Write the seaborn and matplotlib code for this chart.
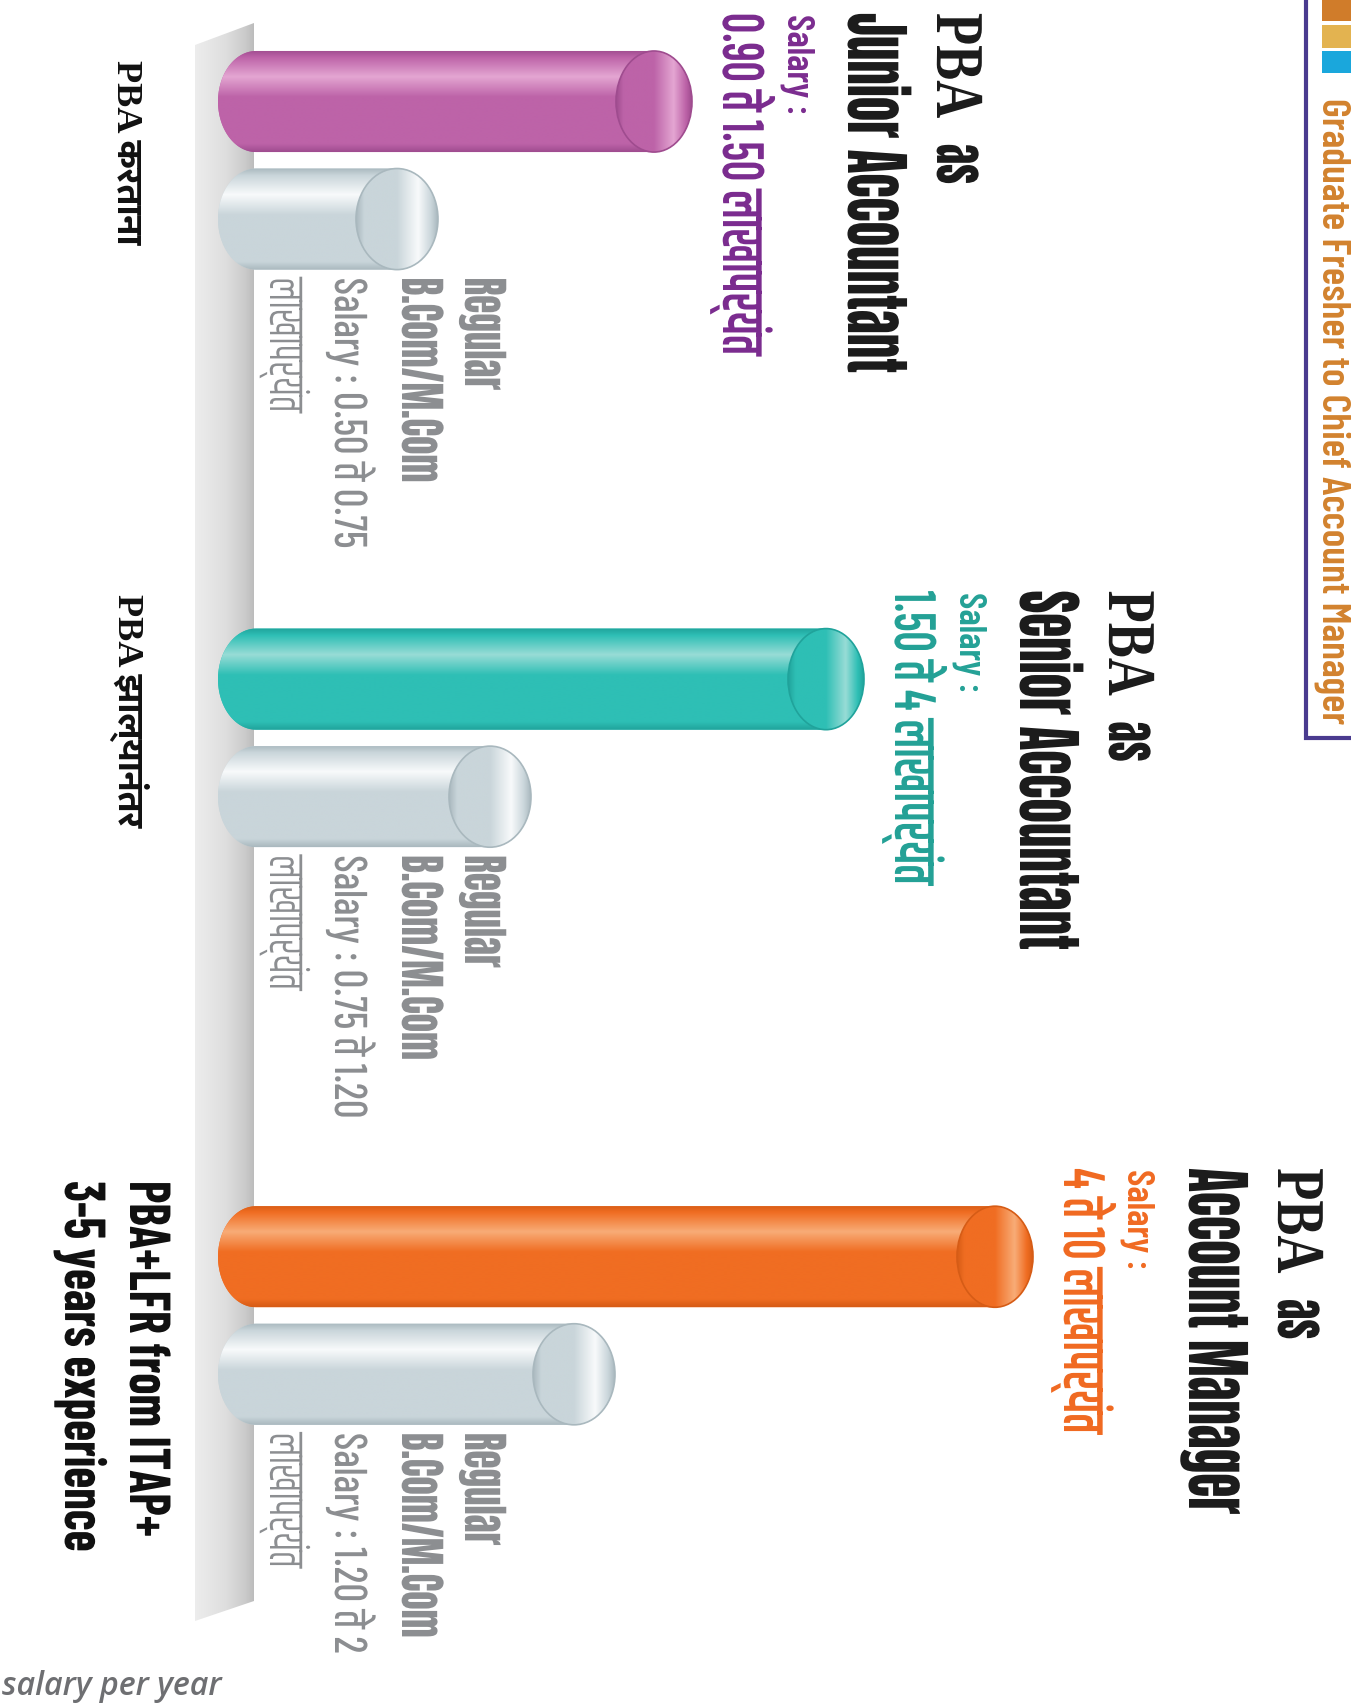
import numpy as np
import pandas as pd
import matplotlib
matplotlib.use('Agg')
import matplotlib.pyplot as plt
import seaborn as sns
from matplotlib import font_manager as fm
from matplotlib.patches import Polygon, Ellipse, Rectangle
from matplotlib.colors import to_rgb
from matplotlib.patheffects import AbstractPathEffect
from matplotlib.transforms import Affine2D

# ---------------- data ----------------
stages = ['PBA करताना', 'PBA झाल्यानंतर', 'PBA+LFR from ITAP+\n3-5 years experience']
series = ['PBA', 'Regular B.Com/M.Com']
# visual length of each cylinder as drawn in the infographic (relative units)
pba_length = [4.74, 6.46, 8.15]
regular_length = [2.20, 3.13, 3.97]
pba_roles = ['Junior Accountant', 'Senior Accountant', 'Account Manager']
pba_salary = ['0.90 ते 1.50 लाखापर्यंत', '1.50 ते 4 लाखापर्यंत', '4 ते 10 लाखापर्यंत']
regular_salary = ['0.50 ते 0.75', '0.75 ते 1.20', '1.20 ते 2']
regular_degree = ['Regular', 'B.Com/M.Com']
unit_word = 'लाखापर्यंत'
title = 'Graduate Fresher to Chief Account Manager'
footnote = 'salary per year'

# ---------------- styles ----------------
pba_base = ['#bd63a8', '#2ebfb5', '#f06d22']
pba_light = ['#e4a6d2', '#98dcd6', '#f8ac77']
pba_dark = ['#9f4c8f', '#20a39b', '#d65c16']
pba_text = ['#7b2c8f', '#24a196', '#f06a22']
reg_base, reg_light, reg_dark = '#c9d5da', '#f8fafb', '#a9b8be'
gray_text = '#8c8e91'

W, H = 1351, 1708
avail = {f.name for f in fm.fontManager.ttflist}
def pick(c):
    for n in c:
        if n in avail:
            return n
    return 'DejaVu Sans'
HEAD = pick(['Anton', 'Oswald', 'Fjalla One', 'Roboto Condensed'])
SERIF = pick(['Liberation Serif', 'DejaVu Serif'])
COND = pick(['Barlow Condensed', 'Roboto Condensed', 'Asap Condensed', 'Archivo Narrow'])
DEVA = pick(['Khand', 'Yantramanav', 'Mukta', 'Hind', 'Noto Sans Devanagari', 'Ek Mukta', 'Biryani'])
DEVA_B = pick(['Mukta', 'Hind', 'Noto Sans Devanagari', 'Martel', 'Ek Mukta', 'Biryani'])
ITAL = pick(['Open Sans', 'Lato', 'DejaVu Sans'])

sns.set_style('white')
fig = plt.figure(figsize=(W / 100, H / 100), dpi=100)
fig.patch.set_facecolor('white')

bg = fig.add_axes([0, 0, 1, 1], zorder=0)
bg.axis('off')
x0px = 218
ax = fig.add_axes([x0px / W, 0, (W - x0px) / W, 1], zorder=1)
ax.patch.set_alpha(0)
ov = fig.add_axes([0, 0, 1, 1], zorder=2)
ov.set_xlim(0, W); ov.set_ylim(H, 0); ov.axis('off'); ov.patch.set_alpha(0)

def grad_img(stops, n=256, vertical=True):
    t = np.linspace(0, 1, n)
    pos = [s[0] for s in stops]
    cols = np.array([to_rgb(s[1]) for s in stops])
    arr = np.stack([np.interp(t, pos, cols[:, k]) for k in range(3)], axis=-1)
    return arr[:, None, :] if vertical else arr[None, :, :]

# wall behind the cylinders
wall = Polygon([(195, 46), (254, 24), (254, 1602), (195, 1622)], closed=True,
               facecolor='none', edgecolor='none')
bg.add_patch(wall)
im = bg.imshow(grad_img([(0, '#ededed'), (0.5, '#dfdfdf'), (0.85, '#cbcbcb'), (1, '#bcbcbc')], vertical=False),
               extent=(195, 254, 1622, 24), origin='upper', aspect='auto', interpolation='bilinear')
im.set_clip_path(wall)
bg.set_xlim(0, W); bg.set_ylim(H, 0)

# ---------------- bars via seaborn ----------------
df = pd.DataFrame({
    'stage': stages * 2,
    'series': [series[0]] * 3 + [series[1]] * 3,
    'length': pba_length + regular_length,
})
sns.barplot(data=df, x='length', y='stage', hue='series', order=stages, hue_order=series,
            orient='h', width=0.407, gap=0.14, palette=[pba_base[0], reg_base],
            saturation=1, errorbar=None, legend=False, ax=ax)
ax.axis('off')

def set_bar_limits():
    ax.set_xlim(0, (W - x0px) / 100)
    ax.set_ylim((H - 161.3) / 577.6, -161.3 / 577.6)
set_bar_limits()

def cylinder(rect, base, light, dark, rr, z):
    x0 = rect.get_x(); x1 = x0 + rect.get_width()
    h = rect.get_height(); yt = rect.get_y()
    hh = h / 2; yc = yt + hh
    rl = 0.38
    th = np.linspace(np.pi / 2, 3 * np.pi / 2, 60)
    left = np.column_stack([x0 + rl + rl * np.cos(th), yc + hh * np.sin(th)])
    th2 = np.linspace(-np.pi / 2, np.pi / 2, 60)
    right = np.column_stack([x1 - rr + rr * np.cos(th2), yc + hh * np.sin(th2)])
    body = Polygon(np.vstack([left, right]), closed=True, facecolor=base, edgecolor='none', zorder=z)
    ax.add_patch(body)
    img = grad_img([(0, dark), (0.07, base), (0.26, light), (0.46, base), (0.92, base), (1, dark)])
    b = ax.imshow(img, extent=(x0, x1, yc + hh, yc - hh), origin='upper', aspect='auto',
                  interpolation='bilinear', zorder=z + 0.1)
    b.set_clip_path(body)
    cap_clip = Ellipse((x1 - rr, yc), 2 * rr, h, facecolor='none', edgecolor='none', zorder=z + 0.1)
    ax.add_patch(cap_clip)
    ci = ax.imshow(grad_img([(0, dark), (0.1, base), (0.5, base), (0.76, light), (0.92, base), (1, dark)],
                            vertical=False),
                   extent=(x1 - 2 * rr, x1, yc + hh, yc - hh), origin='upper', aspect='auto',
                   interpolation='bilinear', zorder=z + 0.2)
    ci.set_clip_path(cap_clip)
    ax.add_patch(Ellipse((x1 - rr, yc), 2 * rr, h, facecolor='none', edgecolor=dark, lw=1.2, zorder=z + 0.3))
    rect.set_visible(False)
    return x1, yt, yt + h

pba_rects = sorted(ax.containers[0], key=lambda r: r.get_y())
reg_rects = sorted(ax.containers[1], key=lambda r: r.get_y())
pba_geo = [cylinder(r, pba_base[i], pba_light[i], pba_dark[i], 0.38, 3) for i, r in enumerate(pba_rects)]
reg_geo = [cylinder(r, reg_base, reg_light, reg_dark, 0.41, 3) for r in reg_rects]
set_bar_limits()

def to_px(x, y):
    dx, dy = ax.transData.transform((x, y))
    return dx, H - dy

# ---------------- texts ----------------
class Squash(AbstractPathEffect):
    """Condense a vertical (rotated) text along its writing direction."""
    def __init__(self, text, factor):
        super().__init__()
        self.text = text
        self.factor = factor
    def draw_path(self, renderer, gc, tpath, affine, rgbFace=None):
        ox, oy = self.text.get_transform().transform(self.text.get_position())
        extra = Affine2D().translate(-ox, -oy).scale(1, self.factor).translate(ox, oy)
        renderer.draw_path(gc, tpath, affine + extra, rgbFace)

fig.canvas.draw()
renderer = fig.canvas.get_renderer()

def vtext(x, y, s, size=30, target=None, grow=1.0, **kw):
    t = ov.text(x, y, s, rotation=-90, rotation_mode='anchor', ha='left', va='baseline',
                fontsize=size, **kw)
    if target:
        L = t.get_window_extent(renderer).height
        size = size * target / L
    t.set_fontsize(size * grow)
    if grow != 1.0:
        t.set_path_effects([Squash(t, 1.0 / grow)])
    return size

sizes = {}
def styled(key, x, y, s, target, grow, **kw):
    if key in sizes:
        vtext(x, y, s, size=sizes[key], grow=grow, **kw)
    else:
        sizes[key] = vtext(x, y, s, size=30, target=target, grow=grow, **kw)

for i in range(3):
    xe, yt, yb = pba_geo[i]
    ex, ty = to_px(xe, yt)
    top = ty - 38
    kwv = dict(family=[COND, DEVA], weight='semibold', color=pba_text[i])
    styled('val', ex + 31, top, pba_salary[i], 343, 1.3, **kwv)
    styled('sal', ex + 95, top, 'Salary :', 100, 1.0, **kwv)
    styled('role', ex + 156, top, pba_roles[i], 360, 1.4, family=HEAD, color='#1c1c1c')
    styled('pba', ex + 245, top, 'PBA', 105, 1.3, family=SERIF, weight='bold', color='#1c1c1c')
    styled('as', ex + 245, top + 131, 'as', 40, 1.35, family=HEAD, color='#1c1c1c')

    xe2, yt2, yb2 = reg_geo[i]
    _, by = to_px(xe2, yb2)
    y0 = by + 8
    styled('deg', 402, y0, regular_degree[1], 205, 1.3, family=HEAD, color=gray_text)
    vtext(465, y0, regular_degree[0], size=sizes['deg'], grow=1.3, family=HEAD, color=gray_text)
    styled('rs', 335, y0, 'Salary : ' + regular_salary[i], 271, 1.12,
           family=[COND, DEVA], weight='medium', color=gray_text)
    styled('uw', 270, y0, unit_word, 135, 1.3, family=[DEVA, COND], color=gray_text)

# stage labels on the left
s0 = vtext(118, 60, stages[0], size=30, target=185, family=[SERIF, DEVA_B], weight='heavy', color='#111111')
vtext(118, 594, stages[1], size=s0, family=[SERIF, DEVA_B], weight='heavy', color='#111111')
l1, l2 = stages[2].split('\n')
s2 = vtext(130, 1182, l1, size=30, target=356, grow=1.2, family=COND, weight='bold', color='#111111')
vtext(65, 1182, l2, size=s2, grow=1.2, family=COND, weight='bold', color='#111111')

# header at the top right
vtext(1323, 98, title, size=30, target=627, family=COND, weight='semibold', color='#d2822e')
ov.plot([1306, 1306, W + 5], [-5, 739, 739], color='#4a3b8f', lw=3, solid_joinstyle='miter')
for (y, hgt, c) in [(-2, 24, '#d07c2a'), (26, 23, '#e3b350'), (52, 22, '#1aa7dc')]:
    ov.add_patch(Rectangle((1322, y), 40, hgt, facecolor=c, edgecolor='none'))

# footnote
ft = ov.text(2, 1695, footnote, ha='left', va='baseline', fontsize=18, family=ITAL,
             style='italic', weight='semibold', color='#6e6f72')
ft.set_fontsize(18 * 220 / ft.get_window_extent(renderer).width)

ov.set_xlim(0, W); ov.set_ylim(H, 0)
fig.savefig('out.png', dpi=100, facecolor='white')
